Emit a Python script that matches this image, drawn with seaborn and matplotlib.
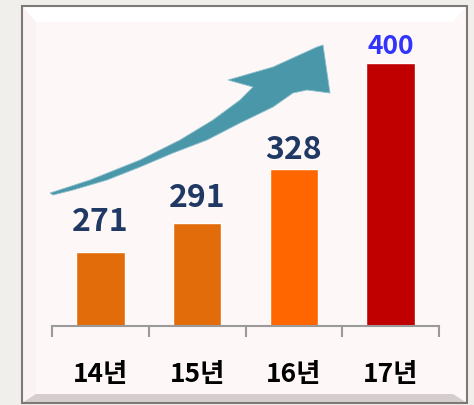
import matplotlib
matplotlib.use("Agg")
import matplotlib.pyplot as plt
import seaborn as sns
import numpy as np
from matplotlib.patches import Polygon, Rectangle

# data
years = ['14년', '15년', '16년', '17년']
values = [271, 291, 328, 400]
bar_colors = ['#e36c0a', '#e36c0a', '#ff6600', '#c00000']
label_colors = ['#1f3864', '#1f3864', '#1f3864', '#3333ff']
label_gap_px = [21, 16, 10, 9]   # gap between bar top and number

sns.set_theme(style="white")
plt.rcParams['font.family'] = ['Noto Sans CJK KR', 'DejaVu Sans']

W, H = 474, 405
fig = plt.figure(figsize=(W / 100, H / 100), dpi=100)
fig.patch.set_facecolor('#f0efeb')

# background panel drawn in pixel space
bg = fig.add_axes([0, 0, 1, 1], zorder=0)
bg.set_xlim(0, W)
bg.set_ylim(H, 0)
bg.axis('off')

x0, y0, x1, y1 = 22, 6, 467, 403
bt, bl, br, bb = 16, 14, 14, 9
bg.add_patch(Rectangle((x0, y0), x1 - x0, y1 - y0, facecolor='#fdf7f7', lw=0))
bg.add_patch(Polygon([(x0, y0), (x1, y0), (x1 - br, y0 + bt), (x0 + bl, y0 + bt)],
                     closed=True, facecolor='#ffffff', lw=0))
bg.add_patch(Polygon([(x0, y0), (x0 + bl, y0 + bt), (x0 + bl, y1 - bb), (x0, y1)],
                     closed=True, facecolor='#fbf3f3', lw=0))
right = Polygon([(x1, y0), (x1, y1), (x1 - br, y1 - bb), (x1 - br, y0 + bt)],
                closed=True, facecolor='none', lw=0)
bg.add_patch(right)
grad = np.linspace(0, 1, 40).reshape(1, -1)
img = bg.imshow(grad, extent=(x1 - br, x1, y1, y0), aspect='auto',
                cmap=matplotlib.colors.LinearSegmentedColormap.from_list(
                    'bev', ['#ece4e4', '#c8c0c0', '#8a8282']))
img.set_clip_path(right)
bg.add_patch(Polygon([(x0, y1), (x1, y1), (x1 - br, y1 - bb), (x0 + bl, y1 - bb)],
                     closed=True, facecolor='#d6cece', lw=0))
bg.add_patch(Rectangle((x0, y0), x1 - x0, y1 - y0, facecolor='none',
                       edgecolor='#7e7878', lw=1.5))

# rising arrow
arrow = [(50, 193), (90, 180), (140, 160), (180, 140), (213, 120), (240, 100),
         (253, 87), (228, 80), (273, 67), (317, 47), (323, 45), (330, 93),
         (307, 90), (293, 93), (273, 107), (240, 123), (207, 140), (173, 153),
         (140, 167), (107, 180), (73, 190), (53, 195)]
bg.add_patch(Polygon(arrow, closed=True, facecolor='#4b97aa', edgecolor='#8cc0cc', lw=0.6))

# bar axes
axis_y = 326
top_y = 40
left_px, right_px = 52, 439
ax = fig.add_axes([left_px / W, (H - axis_y) / H, (right_px - left_px) / W,
                   (axis_y - top_y) / H], zorder=1)
ax.patch.set_alpha(0)

sns.barplot(x=years, y=values, hue=years, palette=bar_colors, legend=False,
            width=0.5, saturation=1, ax=ax)

base = 221
scale = 1.47  # px per unit
ax.set_ylim(base, base + (axis_y - top_y) / scale)
ax.set_xlim(-0.5, len(years) - 0.5)

for i, (v, c) in enumerate(zip(values, label_colors)):
    fs = 19 if i == 3 else 23
    ax.annotate(str(v), (i, v), xytext=(0, label_gap_px[i] * 0.72),
                textcoords='offset points', ha='center', va='baseline',
                color=c, fontsize=fs, fontweight='bold')

for s in ['top', 'right', 'left']:
    ax.spines[s].set_visible(False)
ax.spines['bottom'].set_color('#9a9a9a')
ax.spines['bottom'].set_linewidth(1.5)
ax.set_yticks([])
ax.set_xticks(np.arange(-0.5, len(years)), minor=True)
ax.tick_params(axis='x', which='minor', length=8, width=1.5, color='#9a9a9a',
               direction='out', bottom=True)
ax.tick_params(axis='x', which='major', length=0, pad=25)
for t in ax.get_xticklabels():
    t.set_fontsize(19)
    t.set_fontweight('bold')
    t.set_color('black')
ax.set_xlabel('')
ax.set_ylabel('')

fig.savefig('out.png', dpi=100, facecolor=fig.get_facecolor())
